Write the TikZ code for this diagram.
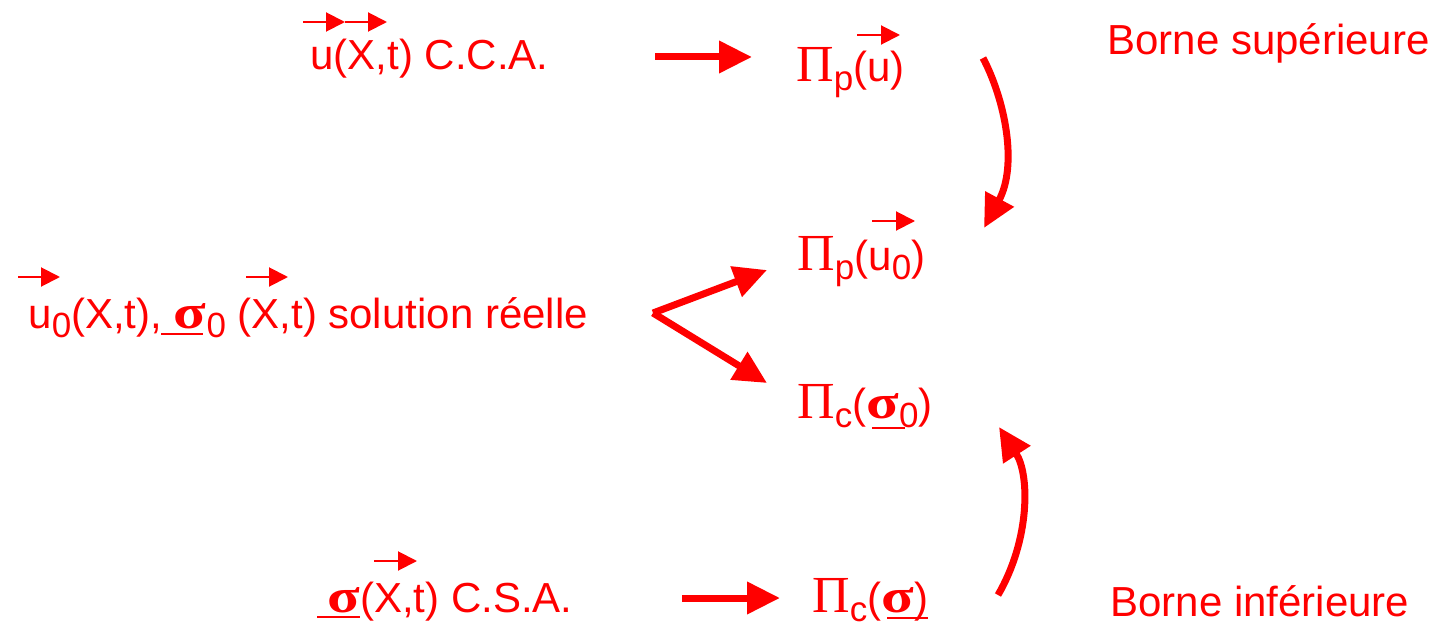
\documentclass[tikz,border=0pt]{standalone}
\usepackage{fontspec}
\setmainfont{Liberation Sans}
\newfontfamily\grk{Liberation Serif}
\usetikzlibrary{arrows.meta}
\newcommand\Pig{{\fontsize{26}{26}\grk Π}}
\newcommand\sig{\scalebox{1.25}[1]{\fontsize{24}{24}\grk\bfseries σ}}
\newcommand\sbs[1]{\raisebox{-4.5pt}{\fontsize{17.5}{18}\selectfont #1}}
\begin{document}
\begin{tikzpicture}[x=0.5pt,y=-0.5pt,
  txt/.style={text=red, anchor=base west, inner sep=0pt, font=\fontsize{21}{25}\selectfont},
  conn/.style={draw=red, line width=3.5pt, -{Triangle[length=16.5pt,width=15.5pt]}},
  vec/.style={draw=red, line width=1pt, -{Triangle[length=9.5pt,width=9.5pt]}},
  uline/.style={draw=red, line width=1pt}]
\useasboundingbox (0,0) rectangle (1435,626);
% texts
\node[txt] (cca) at (310,70) {u(X,t) C.C.A.};
\node[txt] (pu) at (796,82) {\Pig\sbs{p}(u)};
\node[txt] (bs) at (1107,55) {Borne supérieure};
\node[txt] (pu0) at (797,270) {\Pig\sbs{p}(u\sbs{0})};
\node[txt] (sol) at (28,328) {u\sbs{0}(X,t),\ \sig\sbs{0} (X,t) solution réelle};
\node[txt] (pc0) at (797,418) {\Pig\sbs{c}(\sig\sbs{0})};
\node[txt] (csa) at (327,612) {\sig(X,t) C.S.A.};
\node[txt] (pc) at (812,612) {\Pig\sbs{c}(\sig)};
\node[txt] (bi) at (1110,616) {Borne inférieure};
% vector arrows and underlines
\draw[vec] (303,22) -- (345,22);
\draw[vec] (345,22) -- (387,22);
\draw[vec] (857,35) -- (900,35);
\draw[vec] (872,221) -- (915,221);
\draw[vec] (18,277) -- (60,277);
\draw[vec] (246,277) -- (288,277);
\draw[vec] (374,561) -- (417,561);
\draw[uline] (161,334) -- (203,334);
\draw[uline] (872,428) -- (905,428);
\draw[uline] (317,617) -- (360,617);
\draw[uline] (887,618) -- (928,618);
% connector end points
\coordinate (a1s) at (655,57);
\coordinate (a1e) at (752,57);
\coordinate (a2s) at (653,313);
\coordinate (a2e) at (767,270);
\coordinate (a3e) at (767,383);
\coordinate (a4s) at (682,598);
\coordinate (a4e) at (780,598);
\coordinate (c1s) at (983,58);
\coordinate (c1e) at (984,228);
\coordinate (c2s) at (998,595);
\coordinate (c2e) at (999,427);
% connectors
\draw[conn] (c1s) .. controls (1005,100) and (1018,165) .. (c1e);
\draw[conn] (c2s) .. controls (1030,540) and (1030,475) .. (c2e);
\draw[conn] (a1s) -- (a1e);
\draw[conn] (a2s) -- (a2e);
\draw[conn] (a2s) -- (a3e);
\draw[conn] (a4s) -- (a4e);
\end{tikzpicture}
\end{document}
